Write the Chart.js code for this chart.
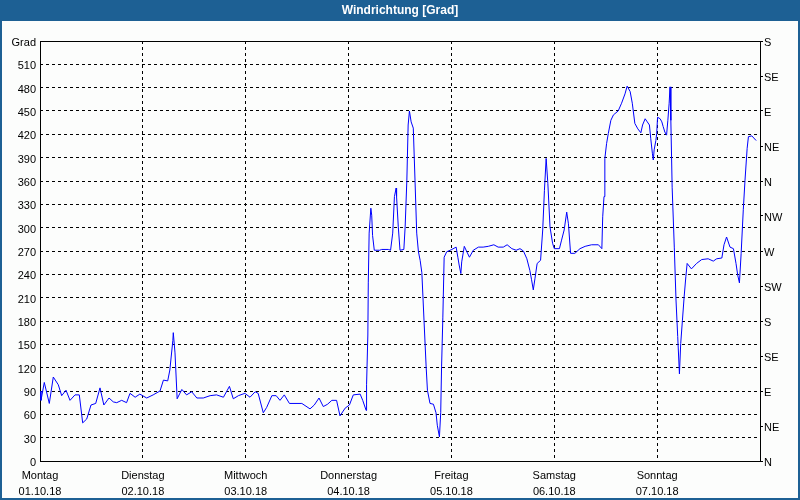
<!DOCTYPE html>
<html>
<head>
<meta charset="utf-8">
<script src="https://cdn.jsdelivr.net/npm/chart.js@4/dist/chart.umd.min.js"></script>
<style>
  html, body { margin: 0; padding: 0; background: #fcfdfc; }
  #wrap { width: 800px; height: 500px; position: relative; }
</style>
</head>
<body>
<div id="wrap"><canvas id="c" width="800" height="500"></canvas></div>
<script>
// Time in hours since Monday 01.10.18 00:00
const hours = [0, 0.23, 1.0, 2.17, 3.1, 4.27, 5.06, 6.07, 7.0, 8.17, 9.17, 9.96, 10.9, 11.9, 13.0, 14.0, 14.9, 16.1, 17.1, 17.9, 19.06, 20.2, 21.0, 22.2, 23.3, 24.9, 26.4, 28.0, 28.8, 29.8, 30.3, 31.0, 31.1, 31.5, 32.0, 33.1, 34.2, 35.4, 36.6, 38.1, 39.7, 41.2, 42.8, 44.2, 45.1, 46.3, 47.8, 49.0, 50.2, 50.9, 52.1, 52.9, 54.1, 55.1, 56.0, 57.0, 58.2, 59.5, 61.1, 63.0, 64.0, 65.1, 66.1, 67.1, 68.1, 69.2, 70.0, 71.2, 72.2, 73.1, 74.7, 75.3, 76.1, 76.2, 76.5, 76.6, 76.8, 77.2, 77.4, 77.6, 78.0, 79.3, 79.7, 81.3, 81.8, 82.3, 82.7, 83.1, 83.2, 83.6, 84.0, 84.9, 85.2, 85.6, 85.9, 86.2, 86.6, 87.1, 87.5, 87.9, 88.3, 88.7, 89.1, 89.6, 90.1, 90.4, 91.0, 91.8, 92.4, 92.7, 93.2, 93.5, 93.7, 94.0, 94.3, 94.9, 96.1, 97.1, 97.5, 97.8, 98.2, 98.4, 99.0, 99.6, 100.2, 101.1, 102.3, 103.4, 104.6, 105.9, 106.9, 108.1, 109.0, 110.1, 111.1, 112.0, 112.8, 113.6, 114.3, 114.7, 115.1, 115.5, 116.0, 116.8, 117.3, 117.7, 118.1, 118.5, 119.0, 119.6, 120.0, 121.2, 121.7, 122.3, 122.9, 123.3, 123.8, 124.8, 126.0, 127.2, 128.7, 130.3, 131.1, 131.3, 131.6, 131.8, 132.2, 132.6, 133.2, 133.8, 134.9, 135.7, 136.5, 137.0, 137.7, 138.2, 138.8, 139.5, 140.2, 140.6, 141.2, 141.7, 142.2, 142.5, 142.9, 143.1, 143.3, 143.7, 143.9, 144.1, 144.7, 145.1, 145.4, 145.8, 146.2, 146.5, 146.8, 147.0, 147.2, 147.5, 148.0, 148.4, 148.8, 149.2, 149.5, 149.9, 150.3, 150.7, 151.0, 152.0, 153.2, 154.4, 155.9, 157.1, 157.9, 159.1, 159.6, 160.2, 161.0, 161.8, 162.4, 162.8, 163.2, 163.6, 164.1, 164.5, 165.0, 165.3, 166.1, 167.1];
// Wind direction in degrees
const degrees = [90, 78, 101, 74, 108, 98, 84, 91, 78, 85, 85, 49, 54, 72, 74, 94, 72, 81, 76, 75, 78, 75, 87, 82, 86, 81, 85, 90, 104, 103, 117, 155, 165, 139, 80, 92, 85, 89, 81, 81, 84, 85, 82, 96, 80, 84, 87, 82, 89, 87, 62, 69, 84, 84, 78, 85, 74, 74, 74, 67, 72, 81, 70, 73, 78, 78, 58, 68, 72, 85, 86, 78, 65, 98, 162, 229, 293, 325, 316, 290, 271, 271, 272, 272, 271, 293, 340, 351, 340, 301, 271, 272, 301, 361, 432, 450, 436, 428, 361, 293, 269, 258, 242, 181, 121, 91, 74, 73, 62, 46, 31, 62, 121, 185, 262, 269, 272, 275, 262, 252, 241, 256, 276, 269, 262, 271, 275, 275, 276, 278, 275, 275, 278, 273, 271, 273, 270, 260, 245, 233, 220, 235, 254, 258, 297, 348, 389, 357, 301, 280, 273, 273, 284, 297, 320, 305, 267, 267, 273, 276, 278, 278, 273, 314, 340, 389, 408, 421, 438, 445, 450, 460, 472, 482, 475, 460, 434, 427, 422, 432, 440, 436, 432, 415, 395, 387, 400, 412, 421, 442, 440, 436, 430, 423, 419, 438, 460, 481, 438, 352, 275, 207, 160, 112, 151, 181, 211, 237, 254, 247, 254, 259, 260, 257, 260, 261, 278, 288, 275, 273, 254, 239, 229, 267, 323, 361, 402, 417, 418, 412];
const dayNames = ['Montag', 'Dienstag', 'Mittwoch', 'Donnerstag', 'Freitag', 'Samstag', 'Sonntag'];
const dayDates = ['01.10.18', '02.10.18', '03.10.18', '04.10.18', '05.10.18', '06.10.18', '07.10.18'];
const compassLabels = ['N', 'NE', 'E', 'SE', 'S', 'SW', 'W', 'NW', 'N', 'NE', 'E', 'SE', 'S'];
const leftTopLabel = 'Grad';
const titleText = 'Windrichtung [Grad]';

const BAR = '#1d6094';
const FONT = "'Liberation Sans', Arial, sans-serif";

const points = hours.map((h, i) => ({ x: h, y: degrees[i] }));

const framePlugin = {
  id: 'frame',
  beforeDraw(chart) {
    const ctx = chart.ctx;
    ctx.save();
    ctx.fillStyle = '#fcfdfc';
    ctx.fillRect(0, 0, chart.width, chart.height);
    ctx.fillStyle = BAR;
    ctx.fillRect(0, 0, chart.width, 21);
    ctx.fillRect(0, 0, 2, chart.height);
    ctx.fillRect(chart.width - 2, 0, 2, chart.height);
    ctx.fillRect(0, chart.height - 2, chart.width, 2);
    ctx.restore();
  },
  beforeDatasetsDraw(chart) {
    const a = chart.chartArea;
    const ctx = chart.ctx;
    ctx.save();
    ctx.strokeStyle = '#000';
    ctx.lineWidth = 1;
    ctx.setLineDash([]);
    ctx.strokeRect(Math.round(a.left) + 0.5, Math.round(a.top) + 0.5,
                   Math.round(a.right - a.left), Math.round(a.bottom - a.top));
    ctx.restore();
  }
};

new Chart(document.getElementById('c'), {
  type: 'line',
  data: {
    datasets: [{
      data: points,
      borderColor: '#0000ff',
      borderWidth: 1,
      pointRadius: 0,
      tension: 0,
      fill: false,
      yAxisID: 'y'
    }]
  },
  options: {
    responsive: false,
    animation: false,
    devicePixelRatio: 1,
    layout: { padding: 0 },
    plugins: {
      legend: { display: false },
      tooltip: { enabled: false },
      title: {
        display: true,
        text: titleText,
        color: '#ffffff',
        font: { family: FONT, size: 12, weight: 'bold', lineHeight: 1.2 },
        padding: { top: 3, bottom: 23.6 }
      }
    },
    scales: {
      x: {
        type: 'linear',
        min: 0,
        max: 168,
        afterFit(s) { s.height = 39; },
        afterBuildTicks(s) {
          s.ticks = [0, 24, 48, 72, 96, 120, 144, 168].map(v => ({ value: v }));
        },
        ticks: {
          color: '#000',
          padding: 7,
          maxRotation: 0,
          autoSkip: false,
          font: { family: FONT, size: 11, lineHeight: 1.45 },
          callback(v) {
            const i = Math.round(v / 24);
            return i < 7 ? [dayNames[i], dayDates[i]] : '';
          }
        },
        grid: { color: '#000', lineWidth: 1, drawTicks: false },
        border: { display: false, dash: [3, 3] }
      },
      y: {
        position: 'left',
        min: 0,
        max: 540,
        afterFit(s) { s.width = 40; },
        ticks: {
          stepSize: 30,
          color: '#000',
          padding: 4,
          labelOffset: 2,
          font: { family: FONT, size: 11 },
          callback(v) { return v === 540 ? leftTopLabel : String(v); }
        },
        grid: { color: '#000', lineWidth: 1, drawTicks: false },
        border: { display: false, dash: [3, 3] }
      },
      y2: {
        position: 'right',
        min: 0,
        max: 540,
        afterFit(s) { s.width = 40; },
        afterBuildTicks(s) {
          s.ticks = compassLabels.map((_, i) => ({ value: i * 45 }));
        },
        ticks: {
          color: '#000',
          padding: 1,
          labelOffset: 2,
          autoSkip: false,
          font: { family: FONT, size: 11 },
          callback(v) { return compassLabels[Math.round(v / 45)]; }
        },
        grid: { drawOnChartArea: false, color: '#000', tickLength: 3, drawTicks: true },
        border: { display: false }
      }
    }
  },
  plugins: [framePlugin]
});
</script>
</body>
</html>
